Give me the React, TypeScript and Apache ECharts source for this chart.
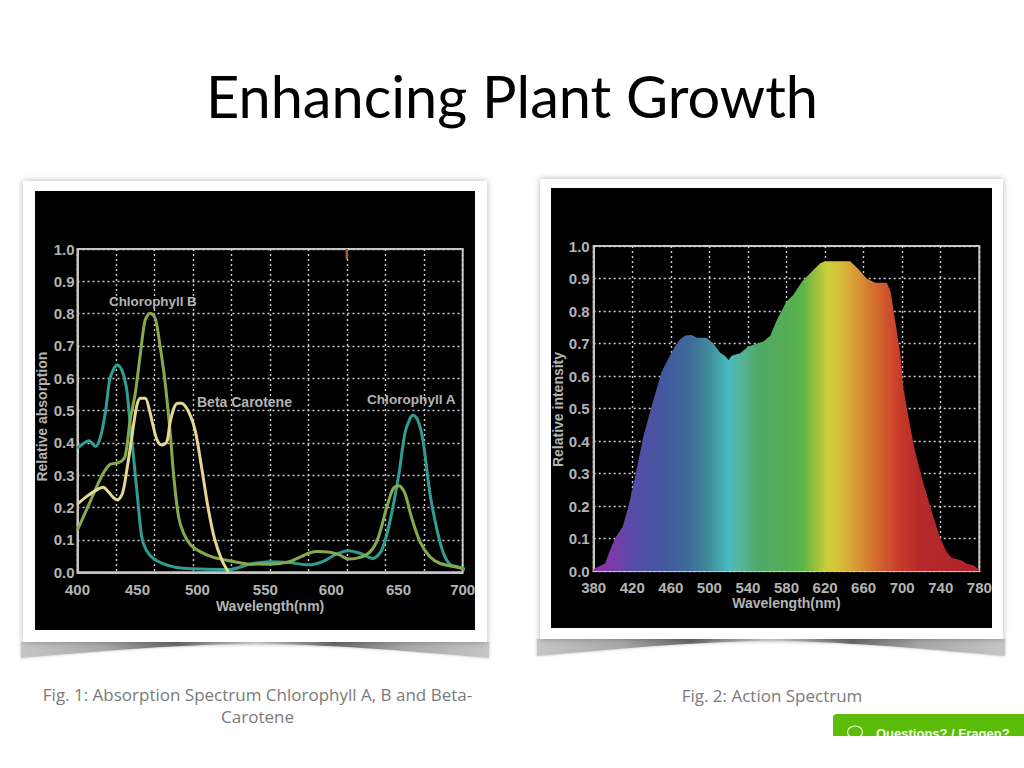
import React, { useEffect, useRef } from "react";
import * as echarts from "echarts";

const titleText = "Enhancing Plant Growth";
const captionOne = ["Fig. 1: Absorption Spectrum Chlorophyll A, B and Beta-", "Carotene"];
const captionTwo = "Fig. 2: Action Spectrum";
const buttonText = "Questions? / Fragen?";

const absorptionLabelText = ["400", "450", "500", "550", "600", "650", "700"];
const absorptionLabelAt = [400, 446.7, 493.4, 546.3, 597.7, 650, 700];
const absorptionGrid = [400, 430, 460, 490, 520, 550, 580, 610, 640, 670, 700];
const actionTicks = [380, 420, 460, 500, 540, 580, 620, 660, 700, 740, 780];

const chlorophyllA = [
  [400, .384], [403, .394], [409, .407], [414, .389], [418, .42], [422, .502], [425, .595], [428.5, .631],
  [431, .641], [434.5, .626], [438, .574], [441, .461], [443.6, .358], [446.7, .234], [450, .11], [453.5, .069],
  [459, .043], [467, .026], [477, .015], [490, .011], [511, .009], [519, .009], [534, .025], [550, .033],
  [565, .03], [580, .023], [591, .033], [602, .057], [611, .067], [620, .059], [630, .043], [637, .069],
  [643, .152], [650, .296], [655, .43], [659, .476], [661.5, .486], [665, .471], [669, .409], [674.5, .244],
  [680, .131], [685, .059], [690, .025], [695, .018], [700.5, .012], [704, .003],
];
const chlorophyllB = [
  [400, .131], [407, .193], [415, .265], [420, .306], [425.4, .334], [432, .339], [437, .358], [441, .471],
  [445, .554], [449, .677], [452.7, .78], [456.6, .801], [460.5, .786], [464, .708], [468, .595], [472, .44],
  [475, .296], [478.7, .172], [482.6, .121], [488, .085], [495.5, .064], [506, .046], [519, .035], [532, .026],
  [550, .025], [565, .033], [580, .059], [586, .064], [596.6, .062], [604, .054], [611, .041], [620, .046],
  [628, .064], [634, .105], [641, .203], [646, .26], [650.3, .268], [655, .244], [660, .172], [666.7, .095],
  [674.5, .048], [682, .028], [692.7, .018], [700, .012],
];
const betaCarotene = [
  [400, .211], [407, .234], [415, .255], [420, .263], [424, .249], [428, .231], [431, .224], [435, .244],
  [438.4, .316], [442, .409], [446, .512], [449, .538], [452.7, .538], [456, .502], [459, .451], [462, .409],
  [465.7, .394], [469.6, .404], [472, .461], [475, .507], [478, .523], [481, .523], [486.5, .497], [491.6, .44],
  [497, .316], [502, .193], [507, .1], [512.4, .038], [517.6, 0],
];
const actionSpectrum = [
  [380, .006], [385, .013], [392, .024], [397, .065], [402, .1], [410, .136], [416, .198], [423, .29],
  [431.5, .413], [440, .506], [445, .557], [450.5, .613], [457.5, .654], [464, .69], [469.6, .713], [475, .725],
  [481.7, .726], [487, .718], [497, .718], [504, .70], [511, .672], [516, .662], [520, .649], [523, .662],
  [532, .67], [540, .69], [547, .698], [556, .706], [563, .723], [570, .772], [580, .829], [587, .849],
  [596, .89], [606, .921], [615, .947], [620, .953], [646, .953], [655, .928], [663, .90], [672, .887],
  [684, .887], [688, .859], [692.6, .772], [698, .67], [701, .567], [706.4, .475], [713, .372], [722, .27],
  [732.3, .167], [739, .106], [746, .059], [751.4, .041], [761.7, .032], [767, .022], [774, .018], [780, .003],
];
const spectrumStops: [number, string][] = [
  [380, "#8f2fa6"], [400, "#7b3ba8"], [420, "#574ba6"], [450, "#44579f"], [480, "#3e6c98"], [500, "#3f8c9c"],
  [520, "#48bcc0"], [530, "#55b6a2"], [550, "#50a968"], [580, "#54ad55"], [597, "#5bb548"], [608, "#8fbe3e"],
  [622, "#cfcc38"], [632, "#d4c438"], [646, "#d9a83a"], [666, "#d47a30"], [680, "#cf5c2f"], [698, "#c83a2a"],
  [718, "#b52a2a"], [780, "#b0222c"],
];

echarts.graphic.registerShape(
  "curlShadowOne",
  echarts.graphic.extendPath("M21 642 L489 642 L489 658 C400 650 320 644 255 644 C190 644 110 650 21 658 Z", {})
);
echarts.graphic.registerShape(
  "curlShadowTwo",
  echarts.graphic.extendPath("M537 639 L1005 639 L1005 656 C916 648 836 641 771 641 C706 641 626 648 537 656 Z", {})
);

const axisText = "#b4b4b4";
const sans = "Liberation Sans";

function makeAxes(gridIndex: number, min: number, max: number, labelAt: number[], labelText: (v: number) => string, ticks: number[], yName: string, nameGapY: number, nameShift: number, labelMargin: number, nameGapX: number, yMargin: number) {
  const splitLine = { show: true, lineStyle: { color: "#cfcfcf", width: 1.4, type: [2, 3] } };
  const labelStyle = { color: axisText, fontFamily: sans, fontSize: 15, fontWeight: "bold" };
  const nameStyle = { color: axisText, fontFamily: sans, fontSize: 14, fontWeight: "bold" };
  return {
    x: {
      type: "value", gridIndex, min, max, name: "Wavelength(nm)", nameLocation: "middle", nameGap: nameGapX,
      nameTextStyle: nameStyle,
      axisLine: { show: true, lineStyle: { color: "#c4c4c4", width: 2 } },
      axisTick: { show: false, customValues: ticks },
      axisLabel: { ...labelStyle, customValues: labelAt, margin: labelMargin, formatter: labelText },
      splitLine,
    },
    y: {
      type: "value", gridIndex, min: 0, max: 1, interval: 0.1, name: yName, nameLocation: "middle", nameGap: nameGapY, nameRotate: 90,
      nameTextStyle: { ...nameStyle, padding: [0, nameShift, 0, 0] },
      axisLine: { show: true, lineStyle: { color: "#c4c4c4", width: 2 } },
      axisTick: { show: false },
      axisLabel: { ...labelStyle, margin: yMargin, formatter: (v: number) => v.toFixed(1) },
      splitLine,
    },
  };
}

function shadowGradient() {
  return new echarts.graphic.LinearGradient(0, 0, 1, 0, [
    { offset: 0, color: "#c6c6c6" }, { offset: 0.18, color: "#a8a8a8" }, { offset: 0.33, color: "#6a6a6a" },
    { offset: 0.5, color: "#e0e0e0" }, { offset: 0.67, color: "#6a6a6a" }, { offset: 0.82, color: "#a8a8a8" }, { offset: 1, color: "#c6c6c6" },
  ]);
}

function chartLabel(text: string, x: number, y: number, size: number) {
  return {
    type: "text", x, y, z: 5,
    style: { text, fill: axisText, font: `bold ${size}px "${sans}"`, textAlign: "left", textVerticalAlign: "middle" },
  };
}

export default function App() {
  const ref = useRef<HTMLDivElement>(null);
  useEffect(() => {
    const chart = echarts.init(ref.current!, null, { renderer: "svg" });
    const a = makeAxes(0, 400, 700, absorptionLabelAt, (v: number) => absorptionLabelText[absorptionLabelAt.indexOf(v)], absorptionGrid, "Relative absorption", 28.5, 12, 10, 27, 3);
    const b = makeAxes(1, 380, 780, actionTicks, (v: number) => String(v), actionTicks, "Relative intensity", 22.7, 2, 8.5, 25, 4);
    const line = (name: string, data: number[][], color: string) => ({
      type: "line", name, data, xAxisIndex: 0, yAxisIndex: 0, smooth: 0.3, showSymbol: false, symbol: "none", clip: false,
      lineStyle: { color, width: 3 },
    });
    chart.setOption({
      animation: false,
      backgroundColor: "#ffffff",
      grid: [
        { left: 77.5, top: 249, width: 385.2, height: 323.3, show: true, borderColor: "#c4c4c4", borderWidth: 2, backgroundColor: "transparent" },
        { left: 593.7, top: 246, width: 385.6, height: 325, show: true, borderColor: "#c4c4c4", borderWidth: 2, backgroundColor: "transparent" },
      ],
      xAxis: [a.x, b.x],
      yAxis: [a.y, b.y],
      series: [
        line("Chlorophyll A", chlorophyllA, "#2f9d92"),
        line("Chlorophyll B", chlorophyllB, "#88a84d"),
        line("Beta Carotene", betaCarotene, "#e3d88e"),
        {
          type: "line", name: "Action", data: actionSpectrum, xAxisIndex: 1, yAxisIndex: 1, showSymbol: false, symbol: "none",
          lineStyle: { width: 0 },
          areaStyle: {
            opacity: 1,
            color: new echarts.graphic.LinearGradient(0, 0, 1, 0,
              spectrumStops.map(([nm, color]) => ({ offset: (nm - 380) / 400, color }))),
          },
        },
      ],
      graphic: {
        elements: [
          { type: "curlShadowOne", x: 0, y: 0, z: -3, style: { fill: shadowGradient(), shadowBlur: 3, shadowColor: "rgba(120,120,120,0.5)" } },
          { type: "curlShadowTwo", x: 0, y: 0, z: -3, style: { fill: shadowGradient(), shadowBlur: 3, shadowColor: "rgba(120,120,120,0.5)" } },
          { type: "rect", z: -2, shape: { x: 23, y: 181, width: 464, height: 461 }, style: { fill: "#fff", shadowBlur: 6, shadowColor: "rgba(0,0,0,0.3)" } },
          { type: "rect", z: -2, shape: { x: 540, y: 179, width: 463, height: 460 }, style: { fill: "#fff", shadowBlur: 6, shadowColor: "rgba(0,0,0,0.3)" } },
          { type: "rect", z: -1, shape: { x: 35, y: 191, width: 440, height: 439 }, style: { fill: "#000" } },
          { type: "rect", z: -1, shape: { x: 551, y: 188, width: 441, height: 440 }, style: { fill: "#000" } },
          { type: "rect", z: 5, shape: { x: 345.5, y: 249, width: 2.5, height: 10 }, style: { fill: "#b5561c" } },
          {
            type: "text", x: 512, y: 95, z: 5,
            style: { text: titleText, fill: "#000", font: '57.7px "Lato"', textAlign: "center", textVerticalAlign: "middle" },
          },
          chartLabel("Chlorophyll B", 109, 301, 13.4),
          chartLabel("Beta Carotene", 197, 402, 14),
          chartLabel("Chlorophyll A", 367, 399, 13.6),
          ...captionOne.map((text, i) => ({
            type: "text", x: 257.5, y: 694 + i * 22, z: 5,
            style: { text, fill: "#7a7a7a", font: '17px "Open Sans"', textAlign: "center", textVerticalAlign: "middle" },
          })),
          {
            type: "text", x: 772, y: 695, z: 5,
            style: { text: captionTwo, fill: "#7a7a7a", font: '17px "Open Sans"', textAlign: "center", textVerticalAlign: "middle" },
          },
          { type: "rect", z: 6, shape: { x: 833, y: 714, width: 195, height: 40, r: [4, 0, 0, 0] }, style: { fill: "#5bbd0a" } },
          { type: "ellipse", z: 7, shape: { cx: 855, cy: 732, rx: 7.5, ry: 6 }, style: { fill: "none", stroke: "#e6f5d5", lineWidth: 1.2 } },
          {
            type: "text", x: 876, y: 733, z: 7,
            style: { text: buttonText, fill: "#eef8e2", font: `bold 13px "${sans}"`, textAlign: "left", textVerticalAlign: "middle" },
          },
          { type: "rect", z: 8, shape: { x: 820, y: 736, width: 204, height: 32 }, style: { fill: "#fff" } },
        ],
      },
    });
    return () => chart.dispose();
  }, []);
  return <div ref={ref} style={{ position: "fixed", left: 0, top: 0, width: 1024, height: 768 }} />;
}
